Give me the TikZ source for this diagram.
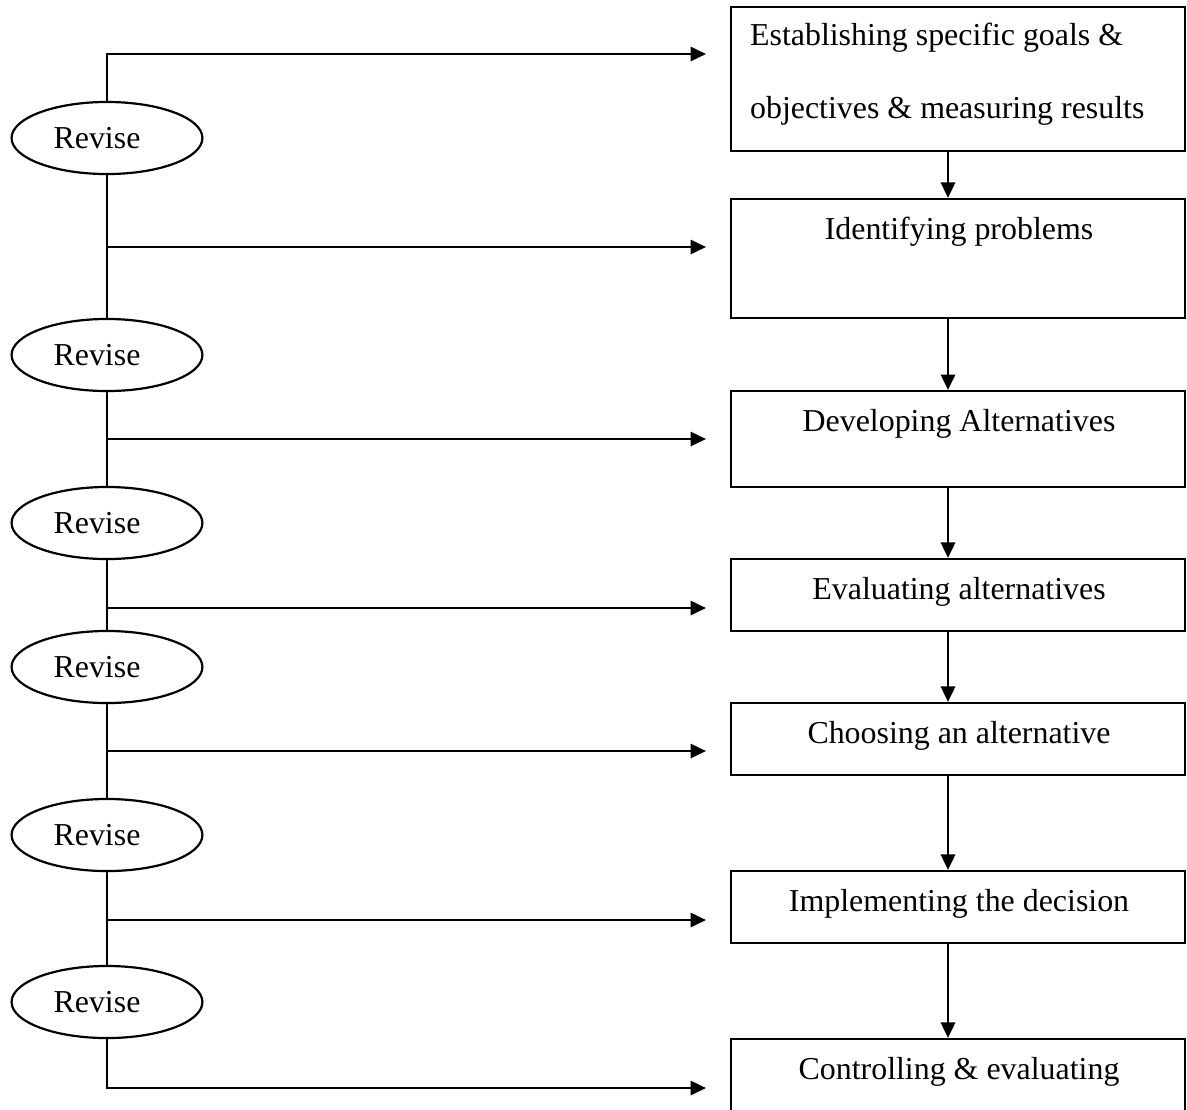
\documentclass[tikz,border=0pt]{standalone}
\usepackage{fontspec}
\setmainfont{Liberation Serif}
\usetikzlibrary{arrows.meta,shapes.geometric}

\begin{document}
\begin{tikzpicture}[x=0.3636pt,y=-0.3636pt,line width=0.8pt,font=\fontsize{11.6}{14}\selectfont]
  \tikzstyle{every node}+=[inner sep=0pt]
  \tikzstyle{revise}=[draw, ellipse, minimum width=69.4pt, minimum height=26.2pt]
  \tikzstyle{stepbox}=[draw, rectangle, minimum width=165.1pt]
  \tikzstyle{link}=[-{Triangle[length=5.6pt,width=5.2pt]}]
  \useasboundingbox (0,0) rectangle (1187,1109);
  \node [stepbox, minimum height=52.4pt] (b1) at (958,79) {};
  \node [stepbox, minimum height=43.3pt] (b2) at (958,258.5) {};
  \node [stepbox, minimum height=34.9pt] (b3) at (958,439) {};
  \node [stepbox, minimum height=26.2pt] (b4) at (958,595) {};
  \node [stepbox, minimum height=26.2pt] (b5) at (958,739) {};
  \node [stepbox, minimum height=26.2pt] (b6) at (958,907) {};
  \node [stepbox, minimum height=26.2pt] (b7) at (958,1075) {};
  \node [anchor=base west] (t1a) at (749,45) {Establishing specific goals \&};
  \node [anchor=base west] (t1b) at (749,118) {objectives \& measuring results};
  \node [anchor=base] (t2) at (959,239) {Identifying problems};
  \node [anchor=base] (t3) at (959,431) {Developing Alternatives};
  \node [anchor=base] (t4) at (959,599) {Evaluating alternatives};
  \node [anchor=base] (t5) at (959,743) {Choosing an alternative};
  \node [anchor=base] (t6) at (959,911) {Implementing the decision};
  \node [anchor=base] (t7) at (959,1079) {Controlling \& evaluating};
  \coordinate (ax) at (948,0);
  \draw [link] (b1.south -| ax) -- (b2.north -| ax);
  \draw [link] (b2.south -| ax) -- (b3.north -| ax);
  \draw [link] (b3.south -| ax) -- (b4.north -| ax);
  \draw [link] (b4.south -| ax) -- (b5.north -| ax);
  \draw [link] (b5.south -| ax) -- (b6.north -| ax);
  \draw [link] (b6.south -| ax) -- (b7.north -| ax);
  \node [revise] (e1) at (107,138) {};
  \node [revise] (e2) at (107,355) {};
  \node [revise] (e3) at (107,523) {};
  \node [revise] (e4) at (107,667) {};
  \node [revise] (e5) at (107,835) {};
  \node [revise] (e6) at (107,1002) {};
  \node (r1) at (97,138) {Revise};
  \node (r2) at (97,355) {Revise};
  \node (r3) at (97,523) {Revise};
  \node (r4) at (97,667) {Revise};
  \node (r5) at (97,835) {Revise};
  \node (r6) at (97,1002) {Revise};
  \coordinate (s1) at (107,54);
  \coordinate (s2) at (107,247);
  \coordinate (s3) at (107,439);
  \coordinate (s4) at (107,608);
  \coordinate (s5) at (107,751);
  \coordinate (s6) at (107,920);
  \coordinate (s7) at (107,1088);
  \draw (e1) -- (e2);
  \draw (e2) -- (e3);
  \draw (e3) -- (e4);
  \draw (e4) -- (e5);
  \draw (e5) -- (e6);
  \draw [link, shorten >=8.7pt] (e1) -- (s1) -- (s1 -| b1.west);
  \draw [link, shorten >=8.7pt] (s2) -- (s2 -| b2.west);
  \draw [link, shorten >=8.7pt] (s3) -- (s3 -| b3.west);
  \draw [link, shorten >=8.7pt] (s4) -- (s4 -| b4.west);
  \draw [link, shorten >=8.7pt] (s5) -- (s5 -| b5.west);
  \draw [link, shorten >=8.7pt] (s6) -- (s6 -| b6.west);
  \draw [link, shorten >=8.7pt] (e6) -- (s7) -- (s7 -| b7.west);
\end{tikzpicture}
\end{document}
